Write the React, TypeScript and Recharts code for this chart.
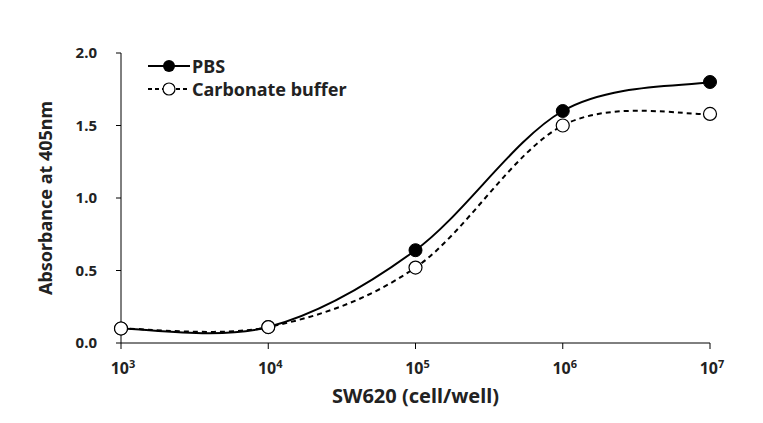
import React from 'react';
import { LineChart, Line, XAxis, YAxis, Label } from 'recharts';

// x values are log10 of cells per well
const cellExponents = [3, 4, 5, 6, 7];
const pbsValues = [0.1, 0.11, 0.64, 1.6, 1.8];
const carbonateValues = [0.1, 0.11, 0.52, 1.5, 1.58];
const yTicks = [0, 0.5, 1, 1.5, 2];

const data = cellExponents.map((e, i) => ({
  exp: e,
  pbs: pbsValues[i],
  carbonate: carbonateValues[i]
}));

const FONT = '"Noto Sans", "DejaVu Sans", sans-serif';

// Excel-style smoothed line (Catmull-Rom through the points, ends duplicated)
const smoothCurve = (context: any) => {
  let pts: [number, number][] = [];
  return {
    areaStart() {},
    areaEnd() {},
    lineStart() {
      pts = [];
    },
    point(x: number, y: number) {
      pts.push([+x, +y]);
    },
    lineEnd() {
      if (!pts.length) return;
      context.moveTo(pts[0][0], pts[0][1]);
      for (let i = 0; i < pts.length - 1; i++) {
        const p0 = pts[Math.max(i - 1, 0)];
        const p1 = pts[i];
        const p2 = pts[i + 1];
        const p3 = pts[Math.min(i + 2, pts.length - 1)];
        context.bezierCurveTo(
          p1[0] + (p2[0] - p0[0]) / 6,
          p1[1] + (p2[1] - p0[1]) / 6,
          p2[0] - (p3[0] - p1[0]) / 6,
          p2[1] - (p3[1] - p1[1]) / 6,
          p2[0],
          p2[1]
        );
      }
    }
  };
};

const PowerTick = ({ x, y, payload }: any) => (
  <text x={x + 2} y={y + 23} textAnchor="middle" fontFamily={FONT} fontWeight="bold" fontSize={16} fill="#222">
    <tspan>10</tspan>
    <tspan dy={-6} fontSize={11}>{payload.value}</tspan>
  </text>
);

const LegendBox = () => (
  <svg width={240} height={56} style={{ position: 'absolute', left: 146, top: 52 }}>
    <line x1={2} y1={14} x2={44} y2={14} stroke="#000" strokeWidth={2} />
    <circle cx={23} cy={14} r={6} fill="#000" />
    <text x={46} y={20.5} fontFamily={FONT} fontWeight="bold" fontSize={18} fill="#222">PBS</text>
    <line x1={2} y1={37} x2={44} y2={37} stroke="#000" strokeWidth={2} strokeDasharray="4 3" />
    <circle cx={23} cy={37} r={6} fill="#fff" stroke="#000" strokeWidth={1.2} />
    <text x={46} y={43.5} fontFamily={FONT} fontWeight="bold" fontSize={18} fill="#222">Carbonate buffer</text>
  </svg>
);

export default function App() {
  return (
    <div style={{ position: 'absolute', left: 0, top: 0, width: 763, height: 423, background: '#fff' }}>
      <LineChart width={763} height={423} data={data} margin={{ top: 53, right: 53, left: 0, bottom: 30 }}>
        <XAxis
          dataKey="exp"
          type="number"
          domain={[3, 7]}
          ticks={cellExponents}
          tick={<PowerTick />}
          stroke="#000"
          tickSize={6}
          height={50}
        >
          <Label
            value="SW620 (cell/well)"
            position="bottom"
            offset={-4}
            style={{ fontFamily: FONT, fontWeight: 'bold', fontSize: 20, fill: '#222' }}
          />
        </XAxis>
        <YAxis
          domain={[0, 2]}
          ticks={yTicks}
          tickFormatter={(v: number) => v.toFixed(1)}
          tick={{ fontFamily: FONT, fontWeight: 'bold', fontSize: 15, fill: '#222' }}
          stroke="#000"
          tickSize={5}
          tickMargin={19}
          width={121}
        >
          <Label
            value="Absorbance at 405nm"
            angle={-90}
            position="insideLeft"
            offset={46}
            style={{ textAnchor: 'middle', fontFamily: FONT, fontWeight: 'bold', fontSize: 18, fill: '#222' }}
          />
        </YAxis>
        <Line
          type={smoothCurve as any}
          dataKey="pbs"
          name="PBS"
          stroke="#000"
          strokeWidth={2}
          dot={{ r: 6.5, fill: '#000', stroke: '#000', strokeWidth: 1 }}
          isAnimationActive={false}
        />
        <Line
          type={smoothCurve as any}
          dataKey="carbonate"
          name="Carbonate buffer"
          stroke="#000"
          strokeWidth={2}
          strokeDasharray="5 4"
          dot={{ r: 6.5, fill: '#fff', stroke: '#000', strokeWidth: 1.2, strokeDasharray: '' }}
          isAnimationActive={false}
        />
      </LineChart>
      <LegendBox />
    </div>
  );
}
